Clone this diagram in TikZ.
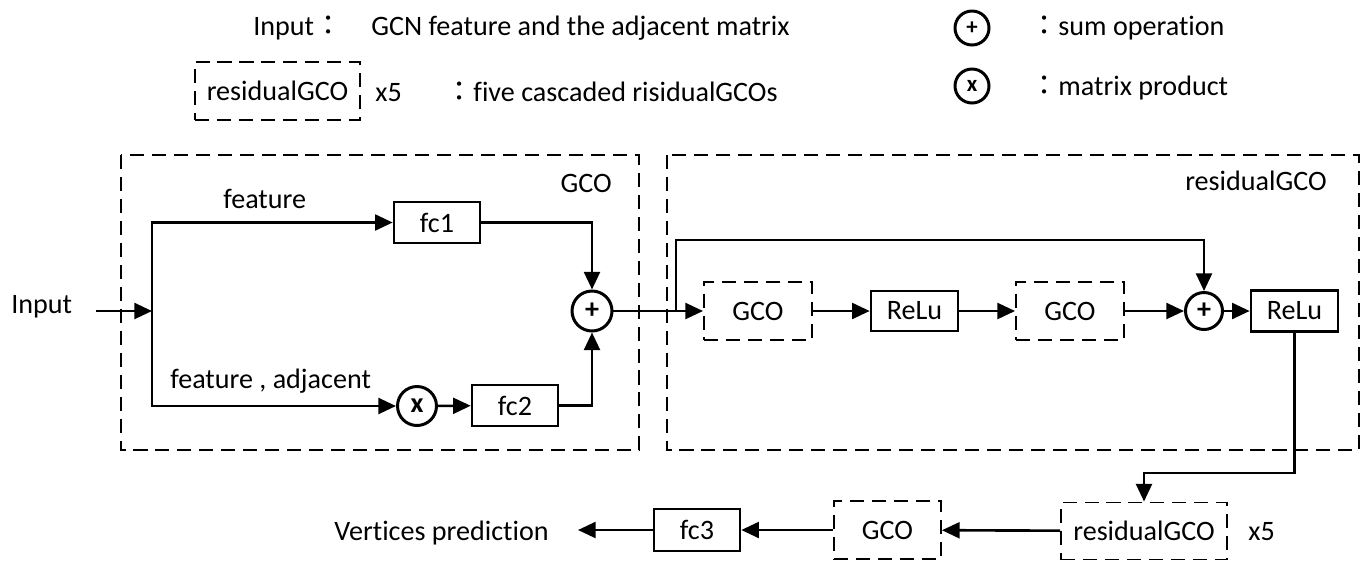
\documentclass[tikz,border=0pt]{standalone}
\usepackage{fontspec}
\setmainfont[Ligatures=NoCommon]{Carlito}
\newfontfamily\cjk{Noto Sans CJK TC}
\usetikzlibrary{arrows.meta}
\tikzset{
 arr/.style={-{Triangle[length=10pt,width=9pt]}, line width=1.5pt},
 frame/.style={line width=1.1pt, dash pattern=on 8pt off 4.5pt},
 blk/.style={draw, line width=1.5pt, inner sep=0, minimum width=1.72cm, minimum height=0.82cm},
 dblk/.style={draw, frame, inner sep=0, minimum width=2.16cm, minimum height=1.16cm},
 op/.style={circle, draw, line width=1.7pt, inner sep=0, minimum size=0.8cm, font=\bfseries\fontsize{16}{16}\selectfont},
 txt/.style={inner sep=0}
}
\begin{document}
\begin{tikzpicture}[x=0.02cm, y=-0.02cm, font=\fontsize{16}{19}\selectfont]
\useasboundingbox (0,0) rectangle (1369,562);
% legend
\node[txt, anchor=base west] (leginp) at (253,35) {Input{\cjk ：}};
\node[txt, anchor=base west] (leginptxt) at (371,35) {GCN feature and the adjacent matrix};
\node[dblk, minimum width=3.3cm] (legres) at (277.5,91) {residualGCO};
\node[txt, anchor=base west] (legx) at (375,101) {x5};
\node[txt, anchor=base west] (legrestxt) at (445,101) {{\cjk ：}five cascaded risidualGCOs};
\node[op, minimum size=0.68cm, font=\bfseries\fontsize{13}{13}\selectfont] (legadd) at (972,28) {+};
\node[op, minimum size=0.68cm, font=\bfseries\fontsize{13}{13}\selectfont] (legmul) at (972,86) {x};
\node[txt, anchor=base west] (legaddtxt) at (1030,35) {{\cjk ：}sum operation};
\node[txt, anchor=base west] (legmultxt) at (1030,95) {{\cjk ：}matrix product};
% GCO
\draw[frame] (121,155) rectangle (639,450);
\node[txt, anchor=base east] (gcolbl) at (612,192) {GCO};
\node[txt, anchor=base west] (inp) at (11,313) {Input};
\coordinate (split) at (152,311);
\node[blk] (fc1) at (437,222.5) {fc1};
\node[op, minimum size=0.78cm] (mul) at (417,406) {x};
\node[blk] (fc2) at (515,405.5) {fc2};
\node[op] (add1) at (592,311) {+};
\node[txt, anchor=base west] (feat) at (223,208) {feature};
\node[txt, anchor=base west] (featadj) at (170,388) {feature , adjacent};
\draw[arr, shorten <=0.46cm] (inp.east |- split) -- (split);
\draw[line width=1.5pt] (split |- fc1) -- (split |- mul);
\draw[arr] (split) |- (fc1);
\draw[arr] (split) |- (mul);
\draw[arr] (mul) -- (fc2);
\draw[arr] (fc1) -| (add1);
\draw[arr] (fc2) -| (add1);
% residualGCO
\draw[frame] (667,155) rectangle (1359,450);
\node[txt, anchor=base east] (reslbl) at (1327,190) {residualGCO};
\node[dblk] (gco1) at (758,311) {GCO};
\node[blk, minimum width=1.74cm, minimum height=0.8cm] (relu1) at (914.5,311) {ReLu};
\node[dblk] (gco2) at (1070,311) {GCO};
\node[op, minimum size=0.74cm] (add2) at (1204,311) {+};
\node[blk, minimum width=1.74cm] (relu2) at (1294.5,311) {ReLu};
\coordinate (branch) at (676,311);
\coordinate (skip) at (676,240);
\draw[arr] (add1) -- (gco1);
\draw[arr] (branch) -- (skip) -| (add2);
\foreach \a/\b in {gco1/relu1, relu1/gco2, gco2/add2, add2/relu2}
 \draw[arr] (\a) -- (\b);
% output
\node[dblk, minimum width=3.32cm, minimum height=1.14cm] (res) at (1144,531) {residualGCO};
\node[txt, anchor=base west] (resx) at (1248,540) {x5};
\node[dblk, minimum width=2.14cm] (gco3) at (887.5,530) {GCO};
\node[blk, minimum height=0.84cm] (fc3) at (697,530) {fc3};
\node[txt, anchor=base east] (pred) at (549,540) {Vertices prediction};
\coordinate (turn) at (1294.5,473);
\draw[arr] (relu2) -- (turn) -| (res);
\draw[arr] (res) -- (gco3);
\draw[arr] (gco3) -- (fc3);
\draw[arr, shorten >=0.58cm] (fc3) -- (pred.east |- fc3);
\end{tikzpicture}
\end{document}
